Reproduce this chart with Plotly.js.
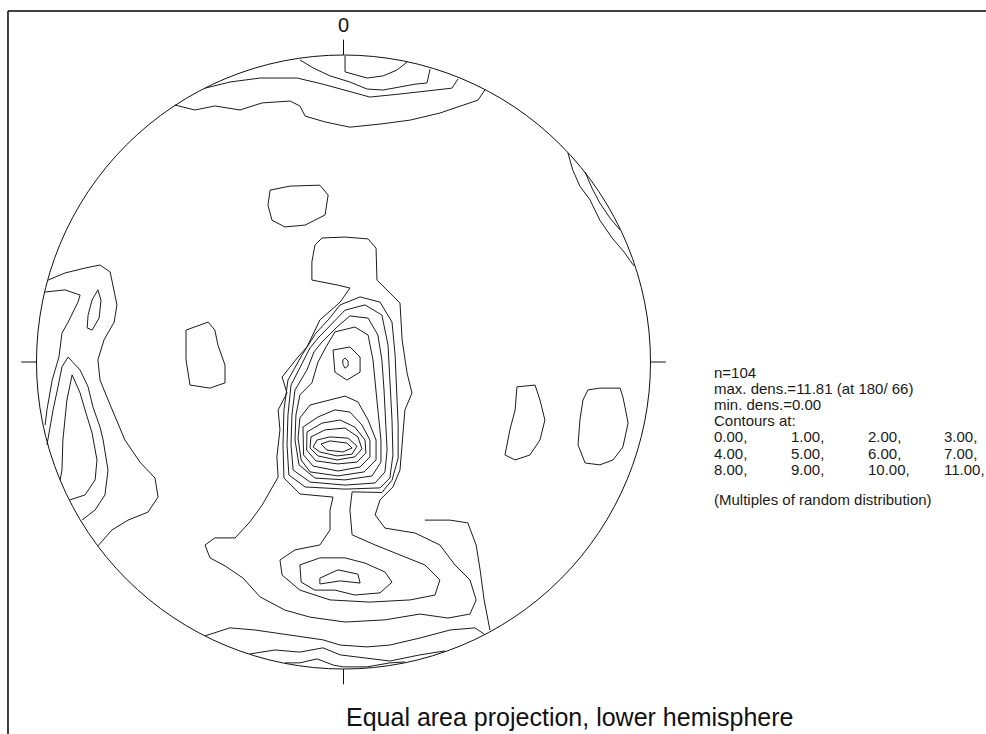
<!DOCTYPE html>
<html>
<head>
<meta charset="utf-8">
<script src="https://cdn.plot.ly/plotly-3.0.1.min.js"></script>
<style>
  html, body { margin: 0; padding: 0; background: #ffffff; }
  #net { width: 986px; height: 734px; }
</style>
</head>
<body>
<div id="net"></div>
<script>
// Density contours on an equal-area net, lower hemisphere.
// Points are [x, y] in the projection plane, in percent of the primitive radius.

const northCap = [[0.5,99.7],[0.5,94.5],[7.7,92.5],[12.9,93.2],[17.4,95.1],[20.7,97.7]];
const northBandA = [[-14.2,98.4],[-9.9,95.8],[-4.4,93.2],[2.1,91.2],[7.7,88.9],[12.9,88.6],[18.4,89.6],[23.3,90.5],[27.2,90.9],[28.2,95.4]];
const northBandB = [[-45.1,89.2],[-37.0,91.2],[-27.2,92.5],[-15.1,92.5],[-6.7,90.5],[0.5,88.6],[8.6,86.3],[18.4,87.3],[28.2,88.3],[35.3,89.2],[37.3,92.2]];
const northBandC = [[-54.9,83.7],[-48.4,82.1],[-41.9,83.4],[-33.7,82.1],[-26.5,84.4],[-17.4,85.0],[-14.2,83.4],[-12.5,80.1],[-6.0,78.2],[2.1,76.5],[11.9,77.5],[21.7,78.8],[31.4,81.1],[38.6,83.4],[43.8,85.3],[46.1,88.7]];

const eastArcA = [[73.1,68.1],[74.7,62.5],[77.0,57.3],[80.3,52.8],[83.5,46.2],[87.5,40.4],[91.4,35.8],[94.6,31.3]];
const eastArcB = [[78.7,61.9],[80.9,56.7],[83.5,51.8],[86.8,46.9],[90.1,43.0]];

const blobNW = [[-23.9,56.0],[-17.4,57.3],[-7.7,57.6],[-5.0,54.4],[-6.0,47.9],[-12.5,44.6],[-19.1,44.0],[-23.3,46.2],[-24.6,51.1],[-23.9,56.0]];
const blobW = [[-51.3,10.4],[-44.1,13.0],[-41.9,10.4],[-40.9,5.5],[-38.6,-1.0],[-38.6,-6.8],[-43.5,-8.5],[-50.0,-7.5],[-51.3,0.7],[-51.3,10.4]];
const blobE1 = [[56.5,-8.1],[62.4,-7.5],[64.0,-12.4],[65.6,-18.9],[64.0,-25.4],[60.7,-30.3],[55.9,-31.9],[52.6,-30.3],[54.2,-22.1],[55.9,-15.6],[56.5,-8.1]];
const blobE2 = [[79.6,-9.1],[83.5,-8.5],[90.1,-8.5],[91.0,-11.4],[91.7,-14.7],[92.7,-19.9],[91.0,-27.7],[87.8,-31.9],[83.5,-33.5],[78.7,-32.9],[76.4,-27.0],[77.0,-18.9],[78.0,-12.4],[79.6,-9.1]];

const westLoop = [[-81.9,20.2],[-80.0,23.5],[-79.0,20.2],[-79.6,14.3],[-81.9,10.4],[-83.5,11.1],[-83.2,15.3],[-81.9,20.2]];
const westA = [[-96.2,26.7],[-90.7,29.0],[-84.2,30.6],[-79.3,31.6],[-76.0,29.3],[-73.8,18.6],[-74.7,13.0],[-78.0,7.2],[-80.0,0.7],[-79.3,-5.9],[-76.0,-14.0],[-71.2,-25.4],[-66.3,-32.6],[-61.4,-37.8],[-60.4,-44.0],[-63.7,-48.9],[-70.2,-51.5],[-75.4,-54.7],[-80.0,-59.9]];
const westB = [[-97.2,22.8],[-90.7,23.5],[-85.8,21.8],[-86.5,19.5],[-89.7,13.0],[-91.7,9.4],[-92.7,1.6],[-94.9,-5.9],[-96.6,-15.6],[-97.2,-20.5]];
const westC = [[-96.6,-27.0],[-95.9,-23.1],[-94.6,-15.6],[-93.0,-8.1],[-91.7,-1.6],[-89.7,1.6],[-85.8,-2.6],[-83.2,-8.1],[-81.6,-14.7],[-79.3,-21.2],[-78.3,-25.4],[-76.7,-35.2],[-77.7,-43.3],[-80.9,-48.2],[-85.2,-51.5]];
const westD = [[-92.3,-38.4],[-91.7,-35.2],[-91.4,-25.4],[-90.1,-12.4],[-88.4,-4.2],[-85.8,-10.1],[-84.2,-15.6],[-81.9,-23.1],[-80.3,-31.9],[-80.9,-38.4],[-84.2,-43.3],[-89.1,-44.9]];

const coreL11 = [[-7.3,-26.7],[-4.4,-25.7],[1.1,-26.4],[2.8,-28.0],[-0.2,-29.3],[-5.4,-28.7],[-7.3,-26.7]];
const coreL10 = [[-8.6,-25.4],[-4.4,-24.4],[1.5,-24.8],[4.4,-27.4],[2.8,-30.0],[-2.1,-30.6],[-7.7,-29.3],[-9.9,-27.7],[-8.6,-25.4]];
const coreL9 = [[-10.6,-24.4],[-6.0,-22.1],[0.5,-21.5],[4.7,-24.4],[6.0,-28.3],[3.7,-30.9],[-2.1,-31.9],[-8.3,-30.6],[-10.9,-28.0],[-10.6,-24.4]];
const coreL8 = [[-11.9,-22.8],[-7.0,-19.9],[-1.1,-18.9],[3.7,-21.2],[7.0,-25.4],[7.3,-29.6],[4.4,-32.6],[-1.8,-33.2],[-9.0,-32.2],[-12.0,-28.7],[-11.9,-22.8]];
const coreL7 = [[-13.2,-21.2],[-8.3,-17.9],[-2.8,-15.6],[2.1,-16.3],[6.0,-20.5],[8.6,-25.4],[8.6,-30.9],[5.4,-34.2],[-1.8,-35.5],[-9.9,-33.9],[-13.0,-30.3],[-13.2,-21.2]];
const coreL6 = [[-14.8,-24.8],[-14.2,-18.2],[-10.9,-14.0],[-5.0,-12.4],[0.5,-11.1],[4.7,-13.0],[8.0,-18.9],[10.6,-25.4],[10.6,-31.9],[6.7,-35.8],[-1.8,-37.1],[-10.9,-35.8],[-13.8,-31.9],[-14.8,-24.8]];
const hexPeak = [[-3.4,3.9],[2.1,4.9],[5.4,1.6],[5.4,-3.3],[1.1,-5.9],[-2.8,-3.3],[-3.4,3.9]];
const hexPeakInner = [[0.5,1.3],[1.5,0.3],[1.5,-1.3],[0.5,-2.0],[-0.2,-0.7],[-0.2,0.7],[0.5,1.3]];
const coreL5 = [[-5.7,4.9],[-2.8,9.8],[3.7,11.4],[8.0,8.8],[9.6,0.7],[10.3,-7.5],[11.2,-15.6],[12.2,-25.4],[12.2,-32.6],[9.3,-37.1],[0.5,-38.4],[-9.3,-37.8],[-14.5,-33.5],[-15.8,-25.4],[-15.5,-17.3],[-14.2,-10.7],[-10.3,-6.8],[-8.3,0],[-5.7,4.9]];
const coreL4 = [[-7.0,6.5],[-1.8,11.7],[2.1,15.0],[8.0,14.3],[11.2,8.8],[12.5,0.7],[13.2,-9.1],[13.8,-18.9],[14.2,-28.7],[13.5,-35.8],[10.3,-39.4],[0.5,-40.1],[-10.9,-39.1],[-16.4,-35.2],[-17.1,-27.0],[-16.8,-17.3],[-15.8,-9.1],[-11.9,-2.6],[-9.6,3.3],[-7.0,6.5]];
const coreL3 = [[-8.3,7.8],[-2.1,14.3],[0.5,16.9],[7.0,18.6],[12.5,15.3],[14.5,5.5],[15.1,-5.9],[15.8,-18.9],[16.1,-30.3],[15.1,-37.8],[11.9,-41.0],[0.5,-41.4],[-12.5,-40.7],[-17.8,-36.8],[-18.4,-27.0],[-18.1,-17.3],[-17.1,-7.5],[-13.2,0],[-10.9,4.6],[-8.3,7.8]];
const coreNeck = [[-9.0,9.4],[-5.0,13.7],[-1.1,18.6],[5.4,21.2],[11.9,19.5],[15.8,13.0],[16.8,2.3],[17.4,-9.1],[17.8,-20.5],[17.8,-31.3],[15.8,-38.5],[12.5,-42.5],[2.8,-42.3],[2.1,-48.2],[2.8,-56.3],[10.3,-59.6],[18.4,-62.9],[26.5,-66.1],[31.4,-71.0],[29.8,-75.9],[21.7,-77.5],[8.6,-78.2],[-4.4,-77.5],[-14.2,-74.3],[-20.0,-69.4],[-20.7,-64.5],[-15.8,-61.2],[-7.7,-59.6],[-4.4,-54.7],[-4.4,-48.2],[-3.4,-44.0],[-14.2,-43.0],[-19.4,-37.8],[-19.7,-27.0],[-19.4,-15.6],[-18.1,-5.9],[-13.5,2.3],[-9.0,9.4]];
const outerRidge = [[-9.3,38.1],[-7.0,40.4],[0.5,40.7],[8.0,40.1],[10.6,37.1],[10.9,30.6],[10.9,26.7],[18.4,19.2],[19.1,7.2],[20.7,-3.6],[22.3,-10.1],[20.0,-15.6],[19.1,-26.4],[18.4,-35.2],[16.1,-40.7],[11.9,-44.9],[10.3,-49.8],[13.5,-54.1],[23.3,-55.7],[31.4,-59.6],[36.3,-66.1],[41.2,-71.0],[43.2,-77.5],[41.2,-82.1],[34.0,-83.4],[24.9,-82.1],[13.5,-84.0],[0.5,-84.7],[-10.9,-83.1],[-19.1,-80.8],[-27.2,-76.5],[-32.7,-70.4],[-38.6,-66.4],[-43.5,-63.8],[-45.1,-59.6],[-41.9,-57.3],[-35.3,-57.3],[-30.5,-52.1],[-26.5,-46.6],[-21.3,-37.5],[-21.7,-30.9],[-20.7,-22.1],[-21.3,-15.6],[-18.4,-10.1],[-20.0,-4.9],[-15.1,1.3],[-11.9,4.9],[-7.7,13.7],[-1.1,19.5],[2.1,24.1],[-2.1,25.1],[-10.3,26.7],[-10.3,32.6],[-9.3,38.1]];

const southLoop = [[-14.2,-66.1],[-7.7,-63.8],[0.5,-63.8],[7.0,-65.5],[13.5,-68.4],[15.8,-71.7],[11.9,-75.2],[3.7,-75.9],[-2.8,-74.3],[-9.3,-74.3],[-13.8,-71.7],[-14.2,-66.1]];
const southPeak = [[-7.7,-70.4],[-1.8,-67.7],[4.7,-69.1],[5.4,-72.0],[-1.1,-71.3],[-7.7,-72.3],[-7.7,-70.4]];
const southEastArm = [[26.5,-51.5],[34.7,-51.5],[40.5,-52.4],[43.2,-59.6],[44.5,-67.7],[45.8,-77.5],[47.7,-87.3]];
const southRimA = [[-45.1,-89.2],[-37.0,-86.6],[-28.8,-87.3],[-19.1,-88.6],[-6.7,-90.5],[-1.1,-92.2],[7.7,-92.8],[15.1,-92.2],[24.9,-89.9],[34.7,-87.3],[42.8,-86.6],[45.8,-88.6]];
const southRimB = [[-30.5,-95.1],[-22.3,-93.8],[-14.2,-94.5],[-6.7,-93.1],[-1.1,-95.4],[6.4,-96.4],[15.1,-97.4],[24.9,-95.4],[33.1,-94.1]];
const southRimC = [[-19.1,-98.0],[-14.2,-98.0],[-8.6,-96.7],[-3.4,-98.7],[-0.2,-99.3],[7.7,-99.3],[15.1,-98.0],[20.0,-97.7]];

const contourLines = [
  northCap, northBandA, northBandB, northBandC, eastArcA, eastArcB,
  blobNW, blobW, blobE1, blobE2, westLoop, westA, westB, westC, westD,
  coreL11, coreL10, coreL9, coreL8, coreL7, coreL6, hexPeak, hexPeakInner,
  coreL5, coreL4, coreL3, coreNeck, outerRidge,
  southLoop, southPeak, southEastArm, southRimA, southRimB, southRimC
];

// Statistics printed beside the net
const sampleCount = 104;
const maxDensity = 11.81;
const maxAt = "180/ 66";
const minDensity = 0.00;
const contourLevels = [0, 1, 2, 3, 4, 5, 6, 7, 8, 9, 10, 11];
const northLabel = "0";
const chartTitle = "Equal area projection, lower hemisphere";

const INK = "#111111";
const FONT = "Liberation Sans, Arial, Helvetica, sans-serif";

const traces = contourLines.map(pts => ({
  type: "scatter",
  mode: "lines",
  x: pts.map(p => p[0]),
  y: pts.map(p => p[1]),
  line: { color: "#1c1c1c", width: 1 },
  hoverinfo: "skip",
  showlegend: false
}));

// Primitive circle and the four cardinal ticks
const shapes = [
  { type: "circle", xref: "x", yref: "y", x0: -100, x1: 100, y0: -100, y1: 100,
    line: { color: INK, width: 1 } },
  { type: "line", xref: "x", yref: "y", x0: 0, y0: 100, x1: 0, y1: 105, line: { color: INK, width: 1 } },
  { type: "line", xref: "x", yref: "y", x0: 0, y0: -100, x1: 0, y1: -105, line: { color: INK, width: 1 } },
  { type: "line", xref: "x", yref: "y", x0: -100, y0: 0, x1: -105, y1: 0, line: { color: INK, width: 1 } },
  { type: "line", xref: "x", yref: "y", x0: 100, y0: 0, x1: 105, y1: 0, line: { color: INK, width: 1 } },
  // window frame (top and left edges)
  { type: "line", xref: "paper", yref: "paper", x0: 0.0081, y0: 0.985, x1: 1.0, y1: 0.985, line: { color: "#000", width: 1.5 } },
  { type: "line", xref: "paper", yref: "paper", x0: 0.0081, y0: 0.985, x1: 0.0081, y1: 0.0, line: { color: "#000", width: 1.5 } }
];

// Text block
const W = 986, H = 734;
const px = v => v / W;
const py = v => 1 - v / H;
const infoFont = { family: FONT, size: 15, color: "#1a1a1a" };
const annotations = [];
const textRow = (text, x, y) => annotations.push({
  xref: "paper", yref: "paper", x: px(x), y: py(y), text: text,
  showarrow: false, xanchor: "left", yanchor: "middle", font: infoFont
});
textRow("n=" + sampleCount, 712, 372.5);
textRow("max. dens.=" + maxDensity.toFixed(2) + " (at " + maxAt + ")", 712, 388.5);
textRow("min. dens.=" + minDensity.toFixed(2), 712, 404.5);
textRow("Contours at:", 712, 420.2);
const colX = [712, 789, 866, 942];
const rowY = [436.8, 453.3, 469.8];
contourLevels.forEach((lv, i) => {
  const row = Math.floor(i / 4), col = i % 4;
  textRow(lv.toFixed(2) + ",", colX[col], rowY[row]);
});
textRow("(Multiples of random distribution)", 712, 500);

annotations.push({
  xref: "x", yref: "y", x: 0, y: 109.8, text: northLabel, showarrow: false,
  xanchor: "center", yanchor: "middle", font: { family: FONT, size: 20, color: INK }
});
annotations.push({
  xref: "paper", yref: "paper", x: px(569), y: py(717), text: chartTitle, showarrow: false,
  xanchor: "center", yanchor: "middle", font: { family: FONT, size: 25, color: INK }
});

const layout = {
  width: W, height: H,
  margin: { l: 0, r: 0, t: 0, b: 0 },
  paper_bgcolor: "#ffffff", plot_bgcolor: "#ffffff",
  xaxis: { range: [-111.89, 209.28], visible: false, fixedrange: true },
  yaxis: { range: [-121.17, 117.92], visible: false, fixedrange: true },
  shapes: shapes,
  annotations: annotations,
  showlegend: false
};

Plotly.newPlot("net", traces, layout, { staticPlot: true, displayModeBar: false });
</script>
</body>
</html>
